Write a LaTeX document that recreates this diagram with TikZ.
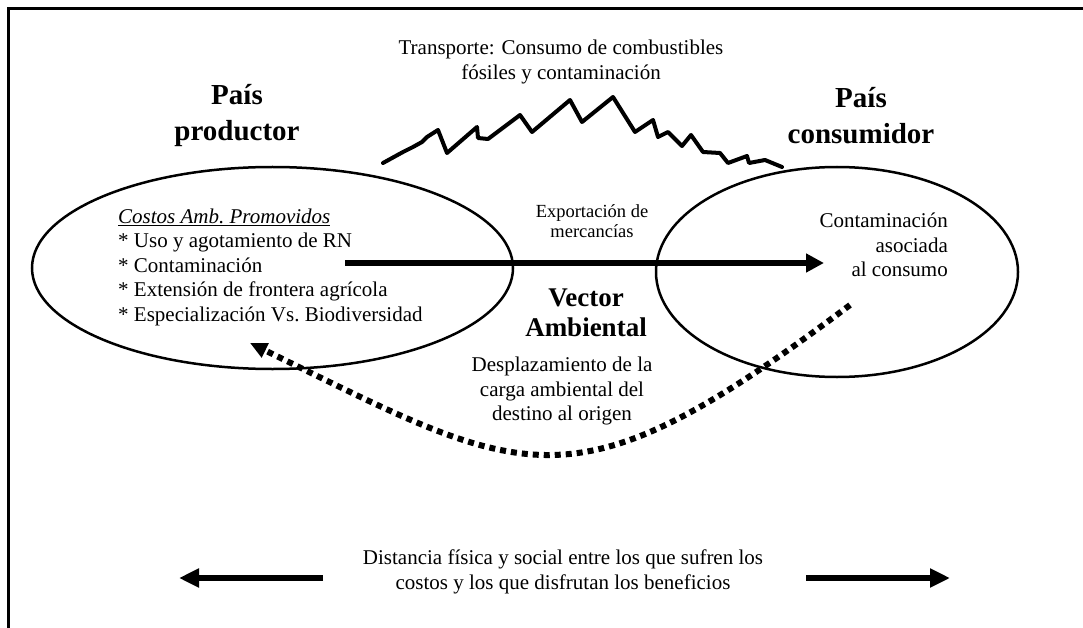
\documentclass[tikz,border=0pt]{standalone}
\usepackage{fontspec}
\setmainfont{Liberation Serif}
\usetikzlibrary{arrows.meta, shapes.geometric}

\begin{document}
\begin{tikzpicture}[
    x=1pt, y=-1pt,
    txt/.style={
        inner sep=0pt, align=center,
        font=\fontsize{21}{24.5}\selectfont,
      },
    pais/.style={
        inner sep=0pt, align=center,
        font=\fontsize{29}{36}\selectfont\bfseries,
      },
    zona/.style={
        ellipse, draw, line width=2.5pt, inner sep=0pt,
      },
    flecha/.style={
        line width=6pt, -{Triangle[length=18pt,width=18pt]},
      },
    puntos/.style={
        line width=6pt, dash pattern=on 6pt off 5pt,
        -{Triangle[length=17pt,width=15pt]},
      },
    sierra/.style={
        line width=4pt, line join=round, line cap=round,
      }
  ]
  \useasboundingbox (0,0) rectangle (1083,628);
  \draw[line width=3pt] (8.7,640) |- (1100,8.7);

  \node[zona, minimum width=481pt, minimum height=202pt] (origen) at (272.5,268) {};
  \node[zona, minimum width=362pt, minimum height=210pt] (destino) at (837,272) {};

  \node[pais] (productor) at (237,116) {País\\productor};
  \node[pais] (consumidor) at (861,116) {País\\consumidor};

  \node[txt] (transporte) at (561,62) {Transporte: Consumo de combustibles\\fósiles y contaminación};
  \draw[sierra] plot coordinates {
      (383,163) (403,152) (413,147) (422,142) (427,137) (438,130)
      (447,153) (477,127) (478,138) (488,139) (520,115) (532,132)
      (570,100) (582,122) (613,97) (635,132) (653,120) (658,137)
      (668,132) (682,146) (691,135) (703,152) (720,153) (728,163)
      (747,156) (749,163) (765,160) (782,167)
    };

  \node[txt, anchor=west, align=left] (costos) at (118,267) {%
    \underline{\textit{Costos Amb.\ Promovidos}}\\
    * Uso y agotamiento de RN\\
    * Contaminación\\
    * Extensión de frontera agrícola\\
    * Especialización Vs.\ Biodiversidad};

  \node[txt, font=\fontsize{18.5}{20}\selectfont] (exportacion) at (592,221) {Exportación de\\mercancías};
  \node[txt, anchor=east, align=right] (contaminacion) at (948,245) {Contaminación\\asociada\\al consumo};

  \coordinate (salida) at (345,263);
  \coordinate (llegada) at (824,263);
  \draw[flecha] (salida) -- (llegada);

  \node[pais, font=\fontsize{27}{30}\selectfont\bfseries] (vector) at (586,313) {Vector\\Ambiental};
  \node[txt] (desplazamiento) at (562,391) {Desplazamiento de la\\carga ambiental del\\destino al origen};

  \coordinate (carga) at (850,305);
  \coordinate (retorno) at (250,343);
  \draw[puntos] (carga) .. controls (570,515) and (530,480) .. (retorno);

  \node[txt] (distancia) at (563,572) {Distancia física y social entre los que sufren los\\costos y los que disfrutan los beneficios};
  \coordinate (izq) at (323,578);
  \coordinate (der) at (806,578);
  \draw[flecha, -{Triangle[length=20pt,width=18pt]}] (izq) -- ++(-144,0);
  \draw[flecha, -{Triangle[length=20pt,width=18pt]}] (der) -- ++(144,0);
\end{tikzpicture}
\end{document}
